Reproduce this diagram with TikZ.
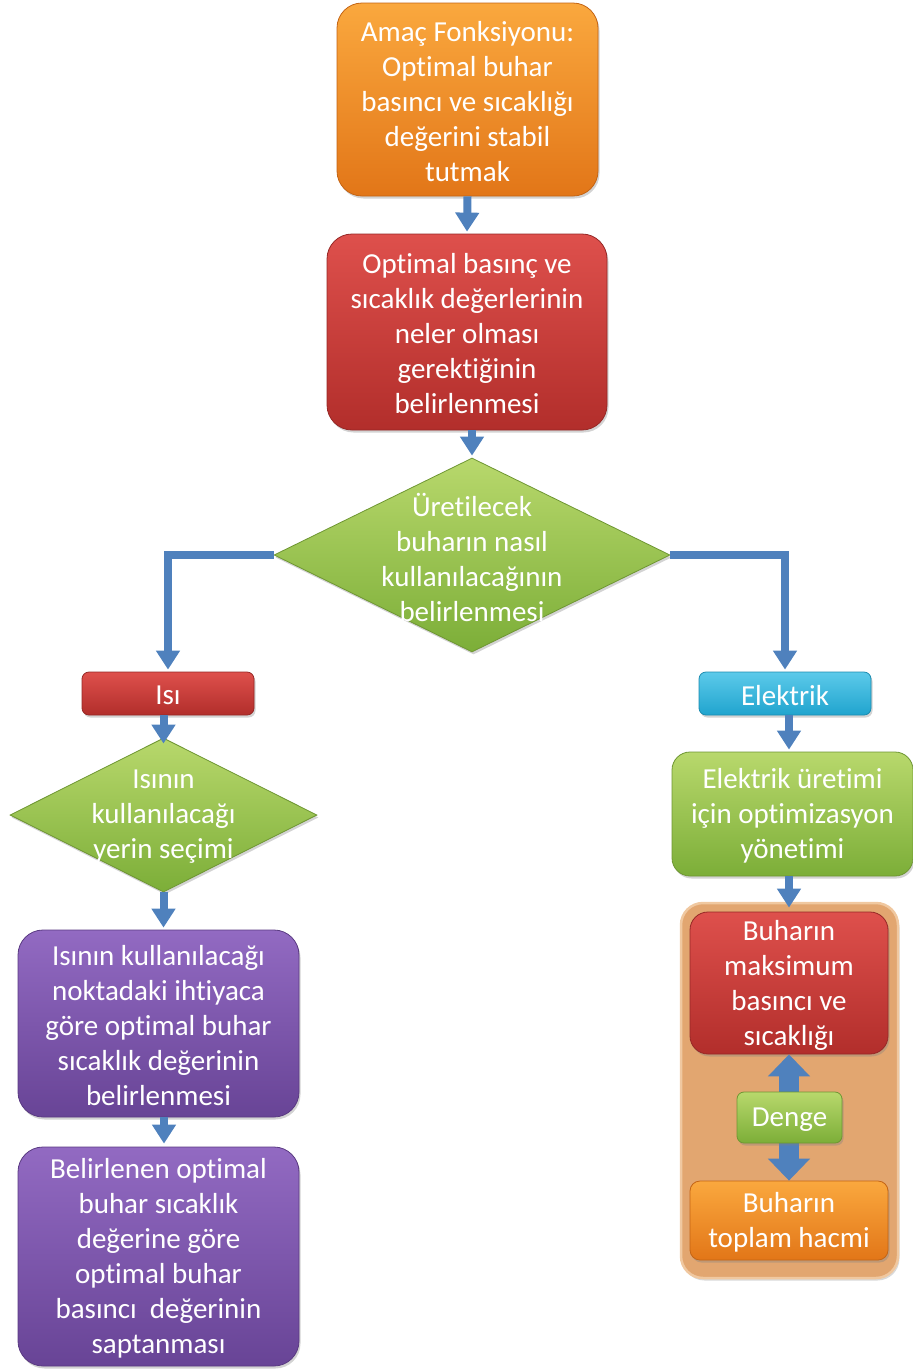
\documentclass[tikz,border=0pt]{standalone}
\usepackage{fontspec}
\setmainfont[Ligatures=NoCommon]{Carlito}
\usetikzlibrary{shapes.geometric,arrows.meta,shadows}

\definecolor{arrowblue}{RGB}{79,129,189}
\definecolor{orangeT}{RGB}{250,168,62}
\definecolor{orangeB}{RGB}{226,118,24}
\definecolor{orangeD}{RGB}{196,100,20}
\definecolor{redT}{RGB}{222,80,76}
\definecolor{redB}{RGB}{178,46,43}
\definecolor{redD}{RGB}{150,40,38}
\definecolor{greenT}{RGB}{184,216,108}
\definecolor{greenB}{RGB}{124,174,56}
\definecolor{greenD}{RGB}{110,150,50}
\definecolor{purpleT}{RGB}{146,106,194}
\definecolor{purpleB}{RGB}{104,68,150}
\definecolor{purpleD}{RGB}{90,58,130}
\definecolor{cyanT}{RGB}{92,202,234}
\definecolor{cyanB}{RGB}{32,164,206}
\definecolor{cyanD}{RGB}{28,140,176}
\definecolor{tanFill}{RGB}{226,166,112}
\definecolor{tanEdge}{RGB}{240,200,160}

\tikzset{
  txt/.style={text=white, align=center, font=\fontsize{29}{35}\selectfont, yshift=-2pt},
  shade box/.style={inner sep=0pt, line width=0.8pt,
    drop shadow={shadow xshift=1.5pt, shadow yshift=-2.5pt, opacity=0.35}},
  orangebox/.style={shade box, draw=orangeD, top color=orangeT, bottom color=orangeB},
  redbox/.style={shade box, draw=redD, top color=redT, bottom color=redB},
  greenbox/.style={shade box, draw=greenD, top color=greenT, bottom color=greenB},
  purplebox/.style={shade box, draw=purpleD, top color=purpleT, bottom color=purpleB},
  cyanbox/.style={shade box, draw=cyanD, top color=cyanT, bottom color=cyanB},
  decision/.style={diamond, shade box, draw=greenD, top color=greenT, bottom color=greenB},
  conn/.style={draw=arrowblue, line width=8pt,
    -{Triangle[width=23pt,length=19pt]}},
  bigconn/.style={draw=arrowblue, fill=arrowblue, line width=20pt,
    {Triangle[width=41pt,length=22pt]}-{Triangle[width=41pt,length=22pt]}},
}

\begin{document}
\begin{tikzpicture}[x=1pt,y=-1pt]
\useasboundingbox (0,0) rectangle (913,1371);

% top of the flow
\node[orangebox, rounded corners=25pt, minimum width=261pt, minimum height=193pt]
  (goal) at (467.5,99.5) {};
\node[txt] at (goal) {Amaç Fonksiyonu:\\Optimal buhar\\basıncı ve sıcaklığı\\değerini stabil\\tutmak};

\node[redbox, rounded corners=25pt, minimum width=280pt, minimum height=196pt]
  (opt) at (467,332) {};
\node[txt] at (opt) {Optimal basınç ve\\sıcaklık değerlerinin\\neler olması\\gerektiğinin\\belirlenmesi};

\node[decision, minimum width=396pt, minimum height=194pt] (use) at (472,555) {};
\node[txt] at (use) {Üretilecek\\buharın nasıl\\kullanılacağının\\belirlenmesi};

% heat branch
\node[redbox, rounded corners=7pt, minimum width=172pt, minimum height=43pt]
  (isi) at (168,693.5) {};
\node[txt] at (isi) {Isı};

\node[decision, minimum width=307pt, minimum height=154pt] (place) at (163.5,815) {};
\node[txt] at (place) {Isının\\kullanılacağı\\yerin seçimi};

\node[purplebox, rounded corners=25pt, minimum width=281pt, minimum height=187pt]
  (temp) at (158.5,1023.5) {};
\node[txt] at (temp) {Isının kullanılacağı\\noktadaki ihtiyaca\\göre optimal buhar\\sıcaklık değerinin\\belirlenmesi};

\node[purplebox, rounded corners=25pt, minimum width=281pt, minimum height=219pt]
  (press) at (158.5,1256.5) {};
\node[txt] at (press) {Belirlenen optimal\\buhar sıcaklık\\değerine göre\\optimal buhar\\basıncı\ \ değerinin\\saptanması};

% electricity branch
\node[cyanbox, rounded corners=7pt, minimum width=172pt, minimum height=43pt]
  (elek) at (785,693.5) {};
\node[txt] at (elek) {Elektrik};

\node[greenbox, rounded corners=18pt, minimum width=241pt, minimum height=124pt]
  (eopt) at (792.5,814) {};
\node[txt] at (eopt) {Elektrik üretimi\\için optimizasyon\\yönetimi};

\node[rounded corners=22pt, fill=tanFill, draw=tanEdge, line width=2.5pt,
  minimum width=217pt, minimum height=375pt, inner sep=0pt,
  drop shadow={shadow xshift=1.5pt, shadow yshift=-2.5pt, opacity=0.3}]
  (group) at (789.5,1090.5) {};

\node[redbox, rounded corners=18pt, minimum width=198pt, minimum height=142pt]
  (maxp) at (789,983) {};
\node[txt] at (maxp) {Buharın\\maksimum\\basıncı ve\\sıcaklığı};

\node[orangebox, rounded corners=10pt, minimum width=198pt, minimum height=79pt]
  (vol) at (789,1220.5) {};
\node[txt] at (vol) {Buharın\\toplam hacmi};

\coordinate (rx) at (789,0);
\draw[bigconn] (maxp.south -| rx) -- (vol.north -| rx);

\node[greenbox, rounded corners=7pt, minimum width=105pt, minimum height=51pt]
  (denge) at (789.5,1117.5) {};
\node[txt] at (denge) {Denge};

% connectors
\draw[conn] (goal.south) -- ([yshift=2pt]opt.north);
\draw[conn] (use.north |- opt.south) -- ([yshift=2pt]use.north);
\draw[conn] (use.west) -| ([yshift=2pt]isi.north);
\draw[conn] (use.east) -| ([yshift=2pt]elek.north);
\draw[conn] (place.north |- isi.south) -- ([yshift=-6pt]place.north);
\draw[conn] (place.south) -- ([yshift=2pt]place.south |- temp.north);
\draw[conn] ([xshift=5.5pt]temp.south) -- ([xshift=5.5pt,yshift=3pt]press.north);
\draw[conn] (elek.south -| rx) -- ([yshift=2pt]eopt.north -| rx);
\draw[conn] (eopt.south -| rx) -- ([yshift=4pt]maxp.north -| rx);
\end{tikzpicture}
\end{document}
